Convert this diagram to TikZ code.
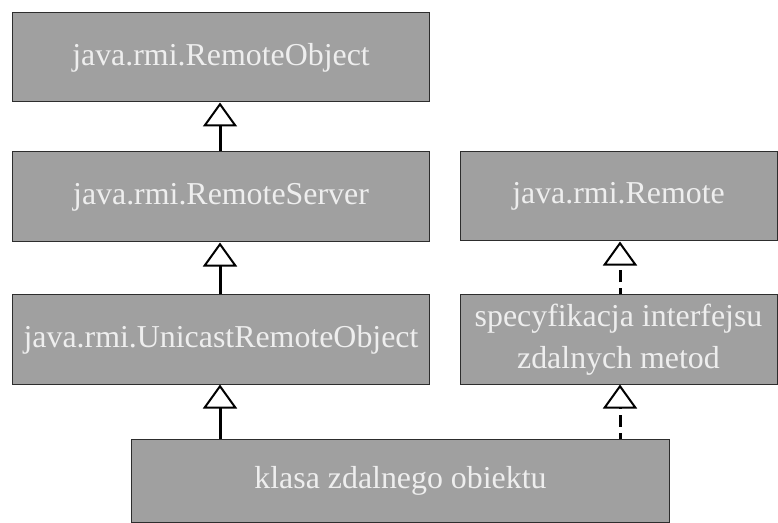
\documentclass[tikz,border=0pt]{standalone}
\usepackage{fontspec}
\setmainfont{Liberation Serif}
\usetikzlibrary{arrows.meta}
\definecolor{boxfill}{RGB}{160,160,160}
\definecolor{boxtext}{RGB}{238,238,238}
\definecolor{boxline}{RGB}{45,45,45}

\begin{document}
\begin{tikzpicture}[x=1bp,y=-1bp,
    klasa/.style={rectangle,draw=boxline,line width=1bp,fill=boxfill,text=boxtext,
        inner sep=0pt,align=center,font=\fontsize{32}{42}\selectfont},
    dziedzic/.style={line width=3bp,-{Triangle[fill=white,length=24bp,width=34bp,line width=2bp]}},
    realizuje/.style={dziedzic,dash pattern=on 12bp off 6bp,dash phase=6bp}]
            \useasboundingbox (0,0) rectangle (778,523);
            \node (robj) at (221,57.5) [klasa,minimum width=416bp,minimum height=89bp]{java.rmi.RemoteObject};
            \node (rserv) at (221,197) [klasa,minimum width=416bp,minimum height=90bp]{java.rmi.RemoteServer};
            \node (unicast) at (221,339.5) [klasa,minimum width=416bp,minimum height=89bp]{java.rmi.UnicastRemoteObject};
            \node (remote) at (618.5,196.5) [klasa,minimum width=317bp,minimum height=89bp]{java.rmi.Remote};
            \node (spec) at (618.5,339.5) [klasa,minimum width=317bp,minimum height=89bp]{specyfikacja interfejsu\\zdalnych metod};
            \node (obiekt) at (400.5,480.5) [klasa,minimum width=537bp,minimum height=83bp]{klasa zdalnego obiektu};
            \draw[dziedzic] (rserv.north -| 220,0) -- (robj.south -| 220,0);
            \draw[dziedzic] (unicast.north -| 220,0) -- (rserv.south -| 220,0);
            \draw[dziedzic] (obiekt.north -| 220,0) -- (unicast.south -| 220,0);
            \draw[realizuje] (spec.north -| 620,0) -- (remote.south -| 620,0);
            \draw[realizuje] (obiekt.north -| 620,0) -- (spec.south -| 620,0);
        \end{tikzpicture}
\end{document}
